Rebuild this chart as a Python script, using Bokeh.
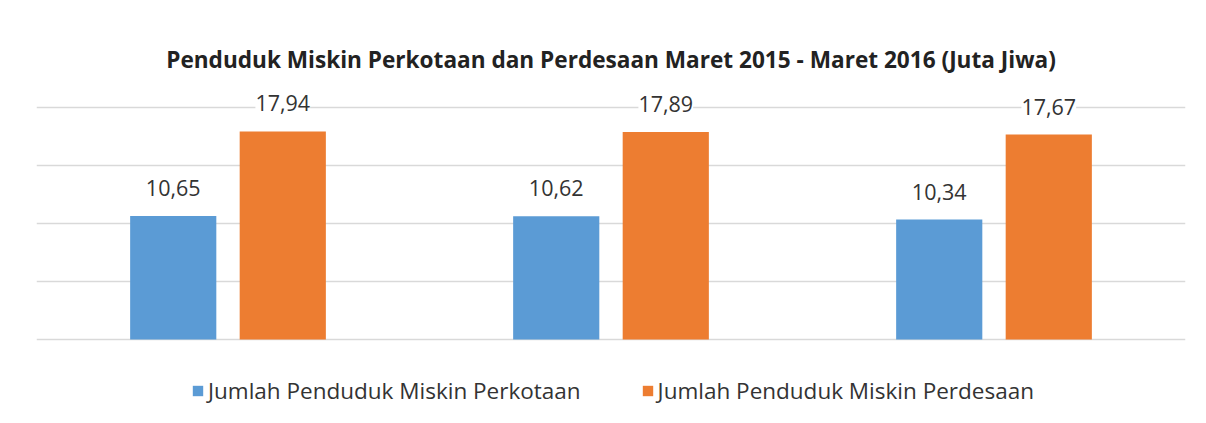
from bokeh.plotting import figure
from bokeh.models import ColumnDataSource, Range1d, LabelSet, Legend, LegendItem
from bokeh.core.properties import value
from bokeh.embed import file_html
from bokeh.resources import INLINE

title = "Penduduk Miskin Perkotaan dan Perdesaan Maret 2015 - Maret 2016 (Juta Jiwa)"
periods = ["Maret 2015", "September 2015", "Maret 2016"]
kota = [10.65, 10.62, 10.34]
desa = [17.94, 17.89, 17.67]
series_names = ["Jumlah Penduduk Miskin Perkotaan", "Jumlah Penduduk Miskin Perdesaan"]
grid_ticks = [0, 5, 10, 15, 20]
colors = ["#5B9BD5", "#ED7D31"]

def fmt(v):
    return f"{v:.2f}".replace(".", ",")

off = 0.143
w = 0.225
centers = [i + 0.5 for i in range(len(periods))]
src = ColumnDataSource(dict(
    period=periods,
    xk=[c - off for c in centers], xd=[c + off for c in centers],
    kota=kota, desa=desa,
    kota_lbl=[fmt(v) for v in kota], desa_lbl=[fmt(v) for v in desa],
))

FONT = "Open Sans"
p = figure(x_range=Range1d(0, len(periods)), y_range=Range1d(-5.86, 22.24),
           width=1190, height=407, output_backend="svg", toolbar_location=None,
           min_border_left=36, min_border_right=5, min_border_top=81, min_border_bottom=0)
p.title.text = title
p.title.align = "center"
p.title.text_font = FONT
p.title.text_font_size = "22.6px"
p.title.text_font_style = "bold"
p.title.text_color = "#222222"
p.title.standoff = 14

r1 = p.vbar(x="xk", top="kota", width=w, source=src, fill_color=colors[0], line_color=None)
r2 = p.vbar(x="xd", top="desa", width=w, source=src, fill_color=colors[1], line_color=None)

for xcol, ycol, lcol in [("xk", "kota", "kota_lbl"), ("xd", "desa", "desa_lbl")]:
    ls = LabelSet(x=xcol, y=ycol, text=lcol, source=src,
                  text_align="center", text_baseline="alphabetic", y_offset=20,
                  text_font=value(FONT), text_font_size=value("21.5px"),
                  text_color=value("#333333"),
                  background_fill_color=value("white"))
    p.add_layout(ls)

p.yaxis.ticker = grid_ticks
p.xaxis.visible = False
p.yaxis.visible = False
p.xgrid.grid_line_color = None
p.ygrid.grid_line_color = "#D9D9D9"
p.ygrid.grid_line_width = 1.5
p.outline_line_color = None

legend = Legend(items=[LegendItem(label=series_names[0], renderers=[r1]),
                       LegendItem(label=series_names[1], renderers=[r2])],
                orientation="horizontal", location=(155, 1),
                label_text_font=FONT, label_text_font_size="22.5px", label_text_color="#333333",
                glyph_width=13, glyph_height=13, label_standoff=4, spacing=60,
                padding=0, margin=0,
                border_line_color=None, background_fill_alpha=0)
p.add_layout(legend)

open("out.html", "w").write(file_html(p, INLINE))
